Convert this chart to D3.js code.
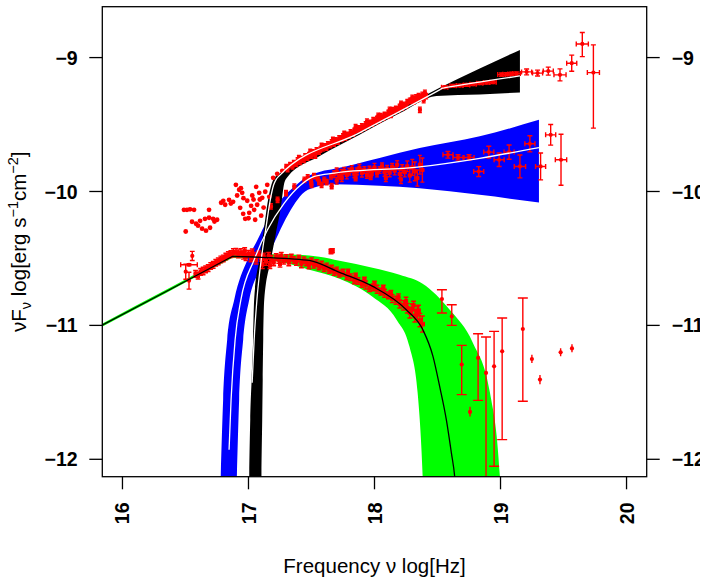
<!DOCTYPE html>
<html>
<head>
<meta charset="utf-8">
<script src="https://cdn.jsdelivr.net/npm/d3@7"></script>
<style>
  body { margin: 0; background: white; }
  text { font-family: "Liberation Sans", Arial, Helvetica, sans-serif; }
</style>
</head>
<body>
<div id="chart"></div>
<script>
// axis ticks and limits (log nu, log nuFnu)
const xTicks = [16, 17, 18, 19, 20];
const yTicks = [-9, -10, -11, -12];
const xLim = [15.84, 20.16];
const yLim = [-12.13, -8.62];

// lower state: model line and its uncertainty band (green)
const lowerModel = [[15.83,-11.002],[16.35,-10.745],[16.86,-10.4915],[16.873,-10.485],[17.085,-10.491],[17.324,-10.502],
  [17.483,-10.515],[17.722,-10.604],[17.986,-10.709],[18.252,-10.883],[18.384,-11.033],[18.464,-11.231],
  [18.517,-11.455],[18.570,-11.704],[18.610,-11.952],[18.636,-12.127],[18.65,-12.3]];
const greenUpper = [[15.83,-10.991],[16.35,-10.732],[16.86,-10.478],[16.873,-10.472],[17.244,-10.469],[17.562,-10.487],
  [17.722,-10.517],[17.984,-10.569],[18.199,-10.622],[18.382,-10.689],[18.597,-10.883],[18.780,-11.129],
  [18.916,-11.502],[18.995,-12.127],[19.01,-12.45]];
const greenLower = [[15.83,-11.013],[16.35,-10.756],[16.86,-10.503],[16.873,-10.497],[17.244,-10.525],[17.483,-10.585],
  [17.722,-10.652],[17.984,-10.786],[18.175,-10.957],[18.278,-11.159],[18.342,-11.502],[18.382,-12.127],[18.394,-12.45]];

// middle state: blue band and white model line
const blueUpper = [[16.771,-12.45],[16.780,-12.127],[16.799,-11.554],[16.831,-11.107],[16.887,-10.808],[16.992,-10.510],
  [17.072,-10.361],[17.151,-10.211],[17.258,-10.062],[17.364,-9.963],[17.469,-9.888],[17.576,-9.851],
  [17.682,-9.831],[18.040,-9.749],[18.358,-9.676],[18.835,-9.588],[19.305,-9.465]];
const blueLower = [[16.898,-12.45],[16.908,-12.127],[16.926,-11.554],[16.958,-11.107],[17.006,-10.808],[17.117,-10.547],
  [17.197,-10.398],[17.276,-10.241],[17.356,-10.107],[17.428,-10.017],[17.515,-9.973],[17.682,-9.946],
  [18.040,-9.957],[18.358,-9.975],[18.835,-10.025],[19.305,-10.082]];
const blueModel = [[16.846,-11.928],[16.862,-11.554],[16.894,-11.107],[16.940,-10.808],[17.045,-10.510],[17.151,-10.286],
  [17.284,-10.087],[17.417,-9.950],[17.523,-9.888],[17.682,-9.863],[18.358,-9.816],[18.835,-9.752],[19.305,-9.672]];

// upper state: black band and white model line
const blackUpper = [[17.002,-12.45],[17.006,-12.127],[17.014,-11.704],[17.025,-11.405],[17.037,-11.107],[17.045,-10.808],
  [17.085,-10.510],[17.125,-10.261],[17.151,-10.087],[17.178,-9.963],[17.204,-9.900],[17.228,-9.881],
  [17.260,-9.857],[17.562,-9.707],[17.881,-9.547],[18.199,-9.386],[18.517,-9.225],[18.835,-9.081],[19.154,-8.943]];
const blackLower = [[17.100,-12.45],[17.103,-12.127],[17.109,-11.704],[17.113,-11.405],[17.117,-11.107],[17.125,-10.808],
  [17.178,-10.510],[17.218,-10.310],[17.258,-10.112],[17.284,-9.937],[17.308,-9.894],[17.562,-9.737],
  [17.881,-9.577],[18.199,-9.416],[18.491,-9.286],[18.835,-9.275],[19.154,-9.261]];
const blackModel = [[17.029,-11.428],[17.045,-11.107],[17.067,-10.808],[17.101,-10.510],[17.141,-10.256],[17.173,-10.062],
  [17.200,-9.950],[17.220,-9.909],[17.244,-9.883],[17.881,-9.562],[18.52,-9.239],[18.541,-9.228],[18.56,-9.225],[19.154,-9.137]];

// observed points [logNu, logNuFnu, xErr, yErr]
const lowerData = [[16.554,-10.481,0,0.034],[16.528,-10.547,0.066,0.008],[16.502,-10.599,0,0.056],[16.528,-10.666,0,0.063],
  [16.58,-10.615,0.01,0.025],[16.60,-10.628,0.01,0.025],[16.62,-10.600,0.01,0.025],[16.64,-10.594,0.01,0.028],
  [16.66,-10.582,0.01,0.025],[16.68,-10.572,0.01,0.025],[16.70,-10.556,0.01,0.025],[16.72,-10.548,0.01,0.025],
  [16.74,-10.532,0.01,0.025],[16.76,-10.522,0.01,0.025],[16.78,-10.508,0.01,0.025],[16.80,-10.500,0.01,0.025],
  [16.82,-10.486,0.01,0.025],[16.84,-10.474,0.01,0.025],[16.86,-10.468,0.01,0.025],[16.88,-10.458,0.01,0.03],
  [16.90,-10.455,0.01,0.03],[16.92,-10.466,0.01,0.03],[16.94,-10.458,0.01,0.03],[16.96,-10.475,0.01,0.03],
  [16.97,-10.445,0.01,0.025],[16.98,-10.490,0.01,0.025],[17.00,-10.465,0.01,0.025],[17.02,-10.500,0.01,0.025],
  [17.03,-10.455,0.01,0.025],[17.04,-10.480,0.01,0.025],[17.06,-10.512,0.01,0.03],[17.08,-10.470,0.01,0.025],
  [17.10,-10.495,0.01,0.025],[17.11,-10.545,0.01,0.03],[17.12,-10.485,0.01,0.025],[17.14,-10.522,0.01,0.03],
  [17.16,-10.480,0.01,0.025],[17.17,-10.550,0.01,0.025],[17.18,-10.502,0.01,0.025],[17.20,-10.530,0.01,0.025],
  [17.22,-10.490,0.01,0.025],[17.24,-10.506,0.01,0.03],[17.25,-10.540,0.01,0.025],[17.26,-10.480,0.01,0.025],
  [17.28,-10.516,0.01,0.025],[17.30,-10.498,0.01,0.025],[17.32,-10.530,0.01,0.025],[17.34,-10.494,0.01,0.025],
  [17.36,-10.512,0.01,0.025],[17.38,-10.526,0.01,0.025],[17.40,-10.500,0.01,0.025],[17.42,-10.540,0.01,0.03],
  [17.44,-10.514,0.01,0.025],[17.46,-10.530,0.01,0.025],[17.48,-10.552,0.01,0.025],[17.50,-10.522,0.01,0.025],
  [17.52,-10.546,0.01,0.025],[17.54,-10.534,0.01,0.025],[17.56,-10.560,0.01,0.025],[17.58,-10.546,0.01,0.025],
  [17.60,-10.572,0.01,0.025],[17.62,-10.560,0.01,0.025],[17.64,-10.586,0.01,0.025],[17.655,-10.448,0.014,0.018],
  [17.665,-10.442,0.014,0.015],[17.66,-10.576,0.01,0.025],[17.68,-10.600,0.01,0.025],[17.70,-10.590,0.01,0.025],
  [17.72,-10.614,0.01,0.025],[17.75,-10.606,0.01,0.025],[17.78,-10.634,0.01,0.025],[17.81,-10.640,0.01,0.025],
  [17.84,-10.664,0.01,0.025],[17.87,-10.668,0.01,0.025],[17.90,-10.690,0.01,0.025],[17.93,-10.698,0.01,0.03],
  [17.96,-10.722,0.01,0.025],[17.99,-10.716,0.01,0.025],[18.02,-10.730,0.01,0.03],[18.05,-10.748,0.01,0.025],
  [18.08,-10.760,0.01,0.03],[18.11,-10.776,0.01,0.025],[18.14,-10.800,0.01,0.03],[18.17,-10.812,0.01,0.03],
  [18.20,-10.840,0.01,0.03],[18.23,-10.850,0.01,0.035],[18.26,-10.872,0.01,0.035],[18.28,-10.905,0.01,0.04],
  [18.30,-10.880,0.01,0.04],[18.32,-10.930,0.012,0.045],[18.34,-10.905,0.012,0.05],[18.36,-10.960,0.015,0.05],
  [18.38,-10.990,0.015,0.06],[17.79,-10.60,0.01,0.02],[17.85,-10.63,0.01,0.02],[17.92,-10.66,0.01,0.02],
  [18.00,-10.69,0.01,0.02],[18.07,-10.72,0.01,0.02],[18.13,-10.76,0.01,0.02],[18.19,-10.79,0.01,0.025],
  [18.25,-10.82,0.01,0.03],[18.31,-10.85,0.01,0.03],[18.35,-10.89,0.012,0.04]];
// hard X-ray points of the lower state [logNu, logNuFnu, low, high]
const lowerHard = [[18.535,-10.803,-10.907,-10.734],[18.613,-10.933,-11.000,-10.846],[18.692,-11.293,-11.517,-11.149],
  [18.758,-11.646,-11.681,-11.607],[18.822,-11.243,-11.560,-11.062],[18.885,-11.355,-12.40,-11.087],
  [18.949,-11.306,-12.052,-11.045],[19.013,-11.194,-11.853,-10.945],[19.177,-11.027,-11.567,-10.796],
  [19.249,-11.251,-11.28,-11.22],[19.313,-11.405,-11.44,-11.37],[19.477,-11.201,-11.23,-11.17],[19.567,-11.172,-11.20,-11.14]];

const middleData = [[17.178,-10.112,0.01,0.02],[17.231,-10.062,0.01,0.02],[17.298,-10.012,0.01,0.02],[17.364,-9.963,0.01,0.02],
  [17.444,-9.913,0.01,0.02],[17.47,-9.895,0.01,0.02],[17.496,-9.925,0.01,0.02],[17.50,-9.950,0.01,0.02],
  [17.52,-9.885,0.01,0.02],[17.549,-9.900,0.01,0.02],[17.56,-9.930,0.01,0.02],[17.58,-9.950,0.01,0.02],
  [17.602,-9.913,0.01,0.02],[17.62,-9.930,0.01,0.02],[17.656,-9.888,0.01,0.02],[17.66,-9.960,0.01,0.02],
  [17.68,-9.870,0.01,0.025],[17.70,-9.850,0.01,0.025],[17.70,-9.920,0.01,0.025],[17.72,-9.882,0.01,0.025],
  [17.74,-9.860,0.01,0.025],[17.74,-9.900,0.01,0.025],[17.76,-9.845,0.01,0.025],[17.78,-9.876,0.01,0.03],
  [17.80,-9.852,0.01,0.025],[17.82,-9.832,0.01,0.025],[17.84,-9.870,0.01,0.025],[17.86,-9.850,0.01,0.025],
  [17.88,-9.822,0.01,0.025],[17.90,-9.862,0.01,0.03],[17.92,-9.840,0.01,0.025],[17.94,-9.876,0.01,0.025],
  [17.96,-9.836,0.01,0.025],[17.98,-9.852,0.01,0.025],[18.00,-9.820,0.01,0.03],[18.02,-9.866,0.01,0.025],
  [18.04,-9.840,0.01,0.025],[18.06,-9.812,0.01,0.025],[18.08,-9.856,0.01,0.03],[18.10,-9.830,0.01,0.025],
  [18.12,-9.860,0.01,0.03],[18.14,-9.816,0.01,0.025],[18.16,-9.846,0.01,0.03],[18.18,-9.800,0.01,0.03],
  [18.20,-9.870,0.01,0.03],[18.22,-9.830,0.01,0.03],[18.24,-9.856,0.01,0.035],[18.26,-9.812,0.01,0.04],
  [18.28,-9.880,0.01,0.05],[18.30,-9.820,0.01,0.06],[18.32,-9.850,0.01,0.07],[18.34,-9.900,0.01,0.06],
  [18.36,-9.800,0.01,0.07],[18.38,-9.840,0.01,0.09],[17.85,-9.90,0.01,0.02],[17.97,-9.89,0.01,0.02],
  [18.09,-9.90,0.01,0.025],[18.21,-9.91,0.01,0.03]];
const middleHard = [[18.583,-9.726,0.04,0.025],[18.663,-9.746,0.04,0.02],[18.750,-9.746,0.04,0.02],[18.827,-9.851,0.04,0.037],
  [18.907,-9.706,0.04,0.044],[18.989,-9.763,0.04,0.05],[19.068,-9.706,0.04,0.053],[19.154,-9.813,0.045,0.085],
  [19.233,-9.644,0.04,0.06],[19.318,-9.813,0.04,0.1],[19.398,-9.577,0.04,0.077],[19.480,-9.763,0.045,0.19]];

// soft X-ray points of the upper state (no errors)
const upperSoft = [[16.488,-10.137],[16.512,-10.137],[16.536,-10.133],[16.568,-10.137],[16.502,-10.299],[16.552,-10.226],
  [16.584,-10.241],[16.616,-10.219],[16.655,-10.204],[16.687,-10.196],[16.719,-10.204],[16.751,-10.211],
  [16.687,-10.137],[16.632,-10.278],[16.663,-10.293],[16.695,-10.271],[16.783,-10.084],[16.815,-10.099],
  [16.846,-10.062],[16.878,-10.077],[16.900,-9.950],[16.926,-9.987],[16.950,-10.010],[16.934,-10.122],
  [16.958,-10.167],[16.974,-10.204],[16.990,-10.069],[17.021,-10.107],[17.045,-10.137],[17.061,-9.965],
  [17.085,-10.010],[17.109,-10.047],[17.133,-10.002],[17.165,-10.040],[17.149,-9.950],[17.196,-9.898],
  [17.228,-9.868],[17.268,-9.846],[17.006,-10.159],[17.053,-10.211],[17.101,-10.181],[17.069,-10.099],
  [16.80,-10.07],[16.86,-10.09],[16.91,-10.03],[16.96,-10.05],[17.03,-10.03],[17.09,-10.06],[17.12,-10.12],
  [16.94,-9.975],[17.00,-10.20],[17.04,-10.06],[16.73,-10.225],[16.60,-10.255]];
const upperData = [[17.30,-9.818],[17.31,-9.833],[17.33,-9.803],[17.35,-9.813],[17.36,-9.788],[17.38,-9.793],[17.39,-9.768],
  [17.41,-9.778],[17.42,-9.758],[17.44,-9.763],[17.45,-9.738],[17.47,-9.748],[17.48,-9.728],[17.50,-9.733],
  [17.51,-9.708],[17.53,-9.733],[17.54,-9.693],[17.56,-9.703],[17.57,-9.688],[17.59,-9.678],[17.60,-9.663],
  [17.62,-9.673],[17.63,-9.648],[17.65,-9.653],[17.66,-9.633],[17.68,-9.643],[17.69,-9.618],[17.71,-9.628],
  [17.72,-9.603],[17.74,-9.608],[17.75,-9.588],[17.77,-9.598],[17.78,-9.578],[17.80,-9.583],[17.81,-9.558],
  [17.83,-9.568],[17.84,-9.548],[17.86,-9.538],[17.87,-9.528],[17.89,-9.538],[17.90,-9.513],[17.92,-9.523],
  [17.93,-9.498],[17.95,-9.508],[17.96,-9.488],[17.98,-9.493],[17.99,-9.468],[18.01,-9.478],[18.02,-9.458],
  [18.04,-9.463],[18.05,-9.438],[18.07,-9.448],[18.08,-9.428],[18.10,-9.433],[18.11,-9.413],[18.13,-9.428],
  [18.14,-9.393],[18.16,-9.403],[18.17,-9.383],[18.19,-9.388],[18.20,-9.368],[18.22,-9.373],[18.23,-9.353],
  [18.25,-9.358],[18.26,-9.333],[18.28,-9.323],[18.29,-9.323],[18.31,-9.328],[18.32,-9.308],[18.33,-9.298],
  [18.34,-9.313],[18.35,-9.288],[18.36,-9.390],[18.37,-9.298],[18.38,-9.278],[18.39,-9.318],[18.40,-9.263],[18.41,-9.288],
  [17.40,-9.750],[17.49,-9.705],[17.58,-9.660],[17.67,-9.615],[17.76,-9.570],[17.85,-9.520],[17.94,-9.478],
  [18.03,-9.435],[18.12,-9.390],[18.21,-9.345],[18.30,-9.300]];
const upperErr = [0.02, 0.009];
const upperHard = [[18.557,-9.221,0.025,0.01,0.01],[18.623,-9.211,0.025,0.01,0.01],[18.676,-9.209,0.025,0.01,0.01],
  [18.730,-9.204,0.025,0.01,0.01],[18.782,-9.199,0.025,0.01,0.01],[18.835,-9.191,0.025,0.01,0.01],
  [18.889,-9.187,0.025,0.01,0.01],[18.941,-9.184,0.025,0.01,0.01],[19.008,-9.127,0.03,0.012,0.012],
  [19.048,-9.124,0.03,0.012,0.012],[19.088,-9.122,0.03,0.012,0.012],[19.127,-9.119,0.03,0.012,0.012],
  [19.207,-9.107,0.04,0.022,0.022],[19.294,-9.116,0.04,0.022,0.022],[19.379,-9.101,0.04,0.03,0.03],
  [19.472,-9.129,0.048,0.045,0.045],[19.565,-9.042,0.04,0.06,0.06],[19.649,-8.898,0.048,0.095,0.085],
  [19.737,-9.112,0.048,0.415,0.207]];

const W = 722, H = 577;
const svg = d3.select("#chart").append("svg")
  .attr("width", W).attr("height", H);

const x = d3.scaleLinear().domain(xLim).range([102.3, 646.7]);
const y = d3.scaleLinear().domain(yLim).range([476.7, 6.7]);

svg.append("clipPath").attr("id", "plotclip")
  .append("rect")
  .attr("x", x(xLim[0])).attr("y", y(yLim[1]))
  .attr("width", x(xLim[1]) - x(xLim[0])).attr("height", y(yLim[0]) - y(yLim[1]));
svg.append("clipPath").attr("id", "pageclip")
  .append("rect").attr("x", 0).attr("y", 0).attr("width", 700).attr("height", H);

const plot = svg.append("g").attr("clip-path", "url(#plotclip)");

const line = d3.line().x(d => x(d[0])).y(d => y(d[1])).curve(d3.curveMonotoneX);
function band(up, lo) {
  return line(up) + line(lo.slice().reverse()).replace(/^M/, "L") + "Z";
}

// bands
plot.append("path").attr("d", band(greenUpper, greenLower)).attr("fill", "#00ff00");
plot.append("path").attr("d", band(blueUpper, blueLower)).attr("fill", "#0000ff");
plot.append("path").attr("d", band(blackUpper, blackLower)).attr("fill", "#000000");

// points -> {v, l, x0, x1, y0, y1, cap}
function sym(arr, cap) {
  return arr.map(d => ({v: d[0], l: d[1], x0: d[0] - d[2], x1: d[0] + d[2], y0: d[1] - d[3], y1: d[1] + d[3], cap: cap}));
}
const pts = [].concat(
  upperSoft.map(d => ({v: d[0], l: d[1], x0: d[0], x1: d[0], y0: d[1], y1: d[1], cap: 0, r: 2.4})),
  upperData.map(d => ({v: d[0], l: d[1], x0: d[0] - upperErr[1], x1: d[0] + upperErr[1],
    y0: d[1] - upperErr[0], y1: d[1] + upperErr[0], cap: 2})),
  upperHard.map(d => ({v: d[0], l: d[1], x0: d[0] - d[2], x1: d[0] + d[2], y0: d[1] - d[3], y1: d[1] + d[4], cap: 2.5})),
  sym(middleData, 2),
  sym(middleHard, 2.5),
  sym(lowerData, 2.4),
  lowerHard.map(d => ({v: d[0], l: d[1], x0: d[0], x1: d[0], y0: d[2], y1: d[3], cap: (d[3] - d[2]) > 0.1 ? 5 : 0}))
);

const red = "#ff0000";
const pg = plot.append("g").attr("stroke", red).attr("stroke-width", 1.4).attr("fill", red);
const pt = pg.selectAll("g").data(pts).join("g");

// horizontal bars with end ticks
pt.filter(d => d.x1 > d.x0).append("path")
  .attr("fill", "none")
  .attr("d", d => {
    const a = x(d.x0), b = x(d.x1), c = y(d.l);
    let s = `M${a},${c}L${b},${c}`;
    if (d.cap) s += `M${a},${c - d.cap}L${a},${c + d.cap}M${b},${c - d.cap}L${b},${c + d.cap}`;
    return s;
  });
// vertical bars with end ticks
pt.filter(d => d.y1 > d.y0).append("path")
  .attr("fill", "none")
  .attr("d", d => {
    const a = y(d.y0), b = y(d.y1), c = x(d.v);
    let s = `M${c},${a}L${c},${b}`;
    if (d.cap) s += `M${c - d.cap},${a}L${c + d.cap},${a}M${c - d.cap},${b}L${c + d.cap},${b}`;
    return s;
  });
pt.append("circle")
  .attr("cx", d => x(d.v)).attr("cy", d => y(d.l))
  .attr("r", d => d.r || 2.1).attr("stroke", "none");

// model lines on top
plot.append("path").attr("d", line(blueModel)).attr("fill", "none").attr("stroke", "white").attr("stroke-width", 1.3);
plot.append("path").attr("d", line(blackModel)).attr("fill", "none").attr("stroke", "white").attr("stroke-width", 1.3);
plot.append("path").attr("d", line(lowerModel)).attr("fill", "none").attr("stroke", "black").attr("stroke-width", 1.3);

// frame
svg.append("rect")
  .attr("x", x(xLim[0])).attr("y", y(yLim[1]))
  .attr("width", x(xLim[1]) - x(xLim[0])).attr("height", y(yLim[0]) - y(yLim[1]))
  .attr("fill", "none").attr("stroke", "black").attr("stroke-width", 1.3);

// left and right axes
const fmt = t => String(t).replace("-", "\u2212");
const axes = svg.append("g").attr("stroke", "black").attr("stroke-width", 1.3);
yTicks.forEach(t => {
  axes.append("line").attr("x1", x(xLim[0]) - 13).attr("x2", x(xLim[0])).attr("y1", y(t)).attr("y2", y(t));
  axes.append("line").attr("x1", x(xLim[1])).attr("x2", x(xLim[1]) + 13).attr("y1", y(t)).attr("y2", y(t));
});
xTicks.forEach(t => {
  axes.append("line").attr("x1", x(t)).attr("x2", x(t)).attr("y1", y(yLim[0])).attr("y2", y(yLim[0]) + 12.6);
});

const tickFont = "19.5px";
svg.append("g").selectAll("text").data(yTicks).join("text")
  .attr("x", x(xLim[0]) - 24.6).attr("y", d => y(d)).attr("dy", "0.36em")
  .attr("text-anchor", "end").style("font-size", tickFont).style("font-weight", "bold")
  .text(fmt);
svg.append("g").attr("clip-path", "url(#pageclip)").selectAll("text").data(yTicks).join("text")
  .attr("x", x(xLim[1]) + 25).attr("y", d => y(d)).attr("dy", "0.36em")
  .attr("text-anchor", "start").style("font-size", tickFont).style("font-weight", "bold")
  .text(fmt);
svg.append("g").selectAll("text").data(xTicks).join("text")
  .attr("transform", d => `translate(${x(d)},${502.5}) rotate(-90)`)
  .attr("dy", "0.36em").attr("text-anchor", "end")
  .style("font-size", tickFont).style("font-weight", "bold")
  .text(fmt);

// axis titles
svg.append("text")
  .attr("x", (x(xLim[0]) + x(xLim[1])) / 2).attr("y", 572.5)
  .attr("text-anchor", "middle").style("font-size", "20.5px")
  .text("Frequency \u03bd log[Hz]");

const yt = svg.append("text")
  .attr("transform", `translate(26,${(y(yLim[0]) + y(yLim[1])) / 2}) rotate(-90)`)
  .attr("text-anchor", "middle").style("font-size", "20.5px");
yt.append("tspan").text("\u03bdF");
yt.append("tspan").attr("dy", 5).style("font-size", "14.5px").text("\u03bd");
yt.append("tspan").attr("dy", -5).text(" log[erg s");
yt.append("tspan").attr("dy", -8).style("font-size", "14.5px").text("\u22121");
yt.append("tspan").attr("dy", 8).text("cm");
yt.append("tspan").attr("dy", -8).style("font-size", "14.5px").text("\u22122");
yt.append("tspan").attr("dy", 8).text("]");
</script>
</body>
</html>
